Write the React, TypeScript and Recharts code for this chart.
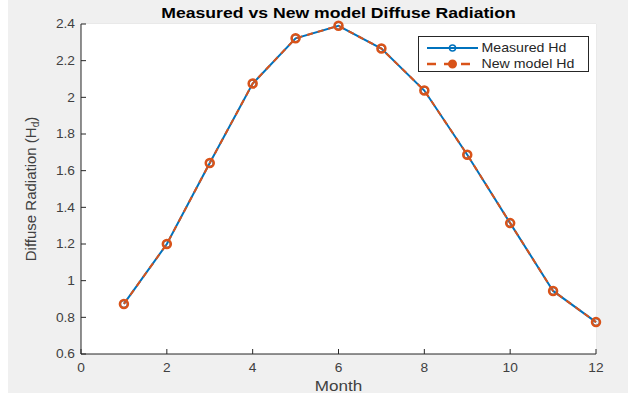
import React from "react";
import { CartesianGrid, Line, LineChart, XAxis, YAxis } from "recharts";

// Monthly diffuse radiation, measured vs new model
const months = [1, 2, 3, 4, 5, 6, 7, 8, 9, 10, 11, 12];
const measuredHd = [0.873, 1.2, 1.642, 2.075, 2.322, 2.39, 2.266, 2.037, 1.687, 1.314, 0.944, 0.774];
const modelHd = [0.873, 1.2, 1.642, 2.075, 2.322, 2.39, 2.266, 2.037, 1.687, 1.314, 0.944, 0.774];
const xTicks = [0, 2, 4, 6, 8, 10, 12];
const yTicks = [0.6, 0.8, 1, 1.2, 1.4, 1.6, 1.8, 2, 2.2, 2.4];

const data = months.map((m, i) => ({
  month: m,
  measured: measuredHd[i],
  model: modelHd[i],
}));

const BLUE = "#0072BD";
const ORANGE = "#D95319";
const AXIS = "#262626";
const TICK = "#404040";
const FONT = "'Liberation Sans', Arial, sans-serif";

// the source image is stretched sideways, so text gets a horizontal scale
const SText = ({ x, y, sx = 1, anchor = "middle", size = 12, bold = false, fill = TICK, children }: any) => (
  <text
    transform={`translate(${x} ${y}) scale(${sx} 1)`}
    textAnchor={anchor}
    dominantBaseline="central"
    fontFamily={FONT}
    fontSize={size}
    fontWeight={bold ? "bold" : "normal"}
    fill={fill}
  >
    {children}
  </text>
);

const fmt = (v: number) => String(Math.round(v * 10) / 10);

const XTick = (p: any) => (
  <SText x={p.x} y={368} sx={1.1} size={12.5}>
    {fmt(p.payload.value)}
  </SText>
);

const YTick = (p: any) => (
  <SText x={75} y={p.y} sx={1.1} size={12.5} anchor="end">
    {fmt(p.payload.value)}
  </SText>
);

export default function App() {
  return (
    <div
      style={{
        position: "absolute",
        left: 0,
        top: 0,
        width: 628,
        height: 396,
        background: "#fff",
      }}
    >
      <div
        style={{
          position: "absolute",
          left: 8,
          top: 0,
          width: 620,
          height: 393,
          background: "#f0f0f0",
        }}
      />
      <div style={{ position: "absolute", left: 0, top: 0 }}>
        <LineChart
          width={628}
          height={396}
          data={data}
          margin={{ top: 24, right: 32, bottom: 0, left: 0 }}
        >
          <rect x={81} y={24} width={515} height={330} fill="#fff" />
          <CartesianGrid stroke="#e3e3e3" strokeWidth={1} />
          <XAxis
            dataKey="month"
            type="number"
            domain={[0, 12]}
            ticks={xTicks}
            height={42}
            stroke={AXIS}
            tickSize={-5}
            tick={<XTick />}
          />
          <YAxis
            type="number"
            domain={[0.6, 2.4]}
            ticks={yTicks}
            width={81}
            stroke={AXIS}
            tickSize={-5}
            tick={<YTick />}
          />
          {/* top and right box edges */}
          <XAxis xAxisId="top" orientation="top" dataKey="month" type="number" domain={[0, 12]} ticks={xTicks} stroke={AXIS} tick={false} tickSize={-5} height={0} />
          <YAxis yAxisId="right" orientation="right" type="number" domain={[0.6, 2.4]} ticks={yTicks} stroke={AXIS} tick={false} tickSize={-5} width={0} />
          <Line
            dataKey="measured"
            stroke={BLUE}
            strokeWidth={2}
            dot={{ r: 3.5, fill: "none", stroke: BLUE, strokeWidth: 1.5 }}
            activeDot={false}
            isAnimationActive={false}
          />
          <Line
            dataKey="model"
            stroke={ORANGE}
            strokeWidth={2}
            strokeDasharray="6 5"
            dot={{ r: 4, fill: "none", stroke: ORANGE, strokeWidth: 2.5, strokeDasharray: "0" }}
            activeDot={false}
            isAnimationActive={false}
          />
        </LineChart>
      </div>
      <svg width={628} height={396} style={{ position: "absolute", left: 0, top: 0, pointerEvents: "none" }}>
        <SText x={338.5} y={13} sx={1.26} size={14} bold fill="#000">
          Measured vs New model Diffuse Radiation
        </SText>
        <SText x={338.5} y={386} sx={1.22} size={14} fill={TICK}>
          Month
        </SText>
        <text
          transform="translate(30 189) rotate(-90)"
          textAnchor="middle"
          dominantBaseline="central"
          fontFamily={FONT}
          fontSize={15}
          fill={TICK}
        >
          Diffuse Radiation (H
          <tspan baselineShift="sub" fontSize={10}>d</tspan>
          )
        </text>
        {/* legend */}
        <rect x={418.5} y={36.5} width={170} height={35} fill="#fff" stroke={AXIS} strokeWidth={1} />
        <line x1={427} y1={48} x2={478} y2={48} stroke={BLUE} strokeWidth={2} />
        <circle cx={452.5} cy={48} r={3} fill="none" stroke={BLUE} strokeWidth={1.5} />
        <line x1={427} y1={64} x2={478} y2={64} stroke={ORANGE} strokeWidth={2.5} strokeDasharray="9 8" />
        <circle cx={452.5} cy={64} r={3.5} fill={ORANGE} stroke={ORANGE} strokeWidth={2} />
        <SText x={481.5} y={48} sx={1.09} size={13} anchor="start" fill={AXIS}>
          Measured Hd
        </SText>
        <SText x={481.5} y={64} sx={1.09} size={13} anchor="start" fill={AXIS}>
          New model Hd
        </SText>
      </svg>
    </div>
  );
}
